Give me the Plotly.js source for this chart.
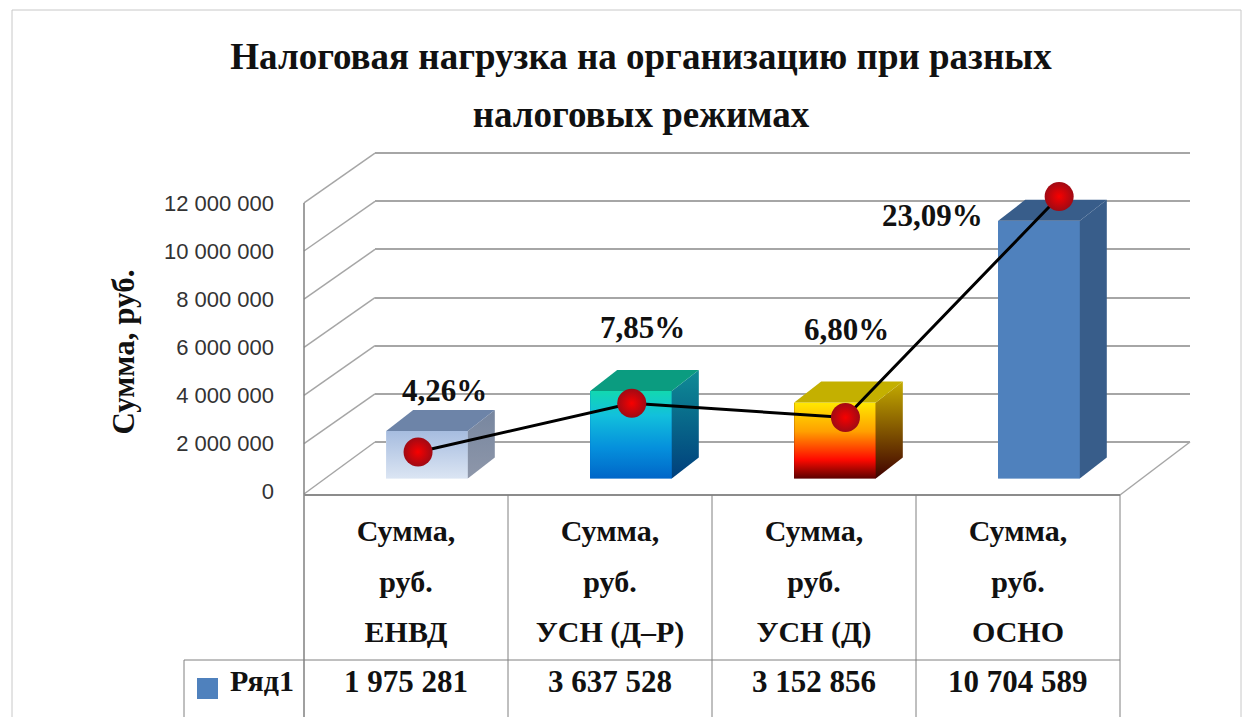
<!DOCTYPE html>
<html>
<head>
<meta charset="utf-8">
<script src="https://cdn.plot.ly/plotly-3.0.1.min.js"></script>
<style>html,body{margin:0;padding:0;background:#fff;overflow:hidden}#chart{width:1256px;height:717px}</style>
</head>
<body>
<div id="chart"></div>
<script>
const chartTitleLines = ["Налоговая нагрузка на организацию при разных", "налоговых режимах"];
const yAxisTitle = "Сумма, руб.";
const seriesName = "Ряд1";
const regimes = ["ЕНВД", "УСН (Д–Р)", "УСН (Д)", "ОСНО"];
const amounts = [1975281, 3637528, 3152856, 10704589];
const shares = [4.26, 7.85, 6.80, 23.09];
const shareLabels = ["4,26%", "7,85%", "6,80%", "23,09%"];
const shareLabelShift = [[26, -61], [11, -76], [1, -88], [-127, 19]];
const yTicks = [0, 2000000, 4000000, 6000000, 8000000, 10000000, 12000000];
const yTickText = ["0", "2 000 000", "4 000 000", "6 000 000", "8 000 000", "10 000 000", "12 000 000"];
const amountText = ["1 975 281", "3 637 528", "3 152 856", "10 704 589"];

const W = 1256, H = 717;
const SERIF = '"Liberation Serif","Times New Roman",serif';
const xd = (a, b) => [a / W, b / W];
const yd = (top, bottom) => [1 - bottom / H, 1 - top / H];
const idx = regimes.map((_, i) => i);

// geometry of the chart's pseudo-3D planes (pixels)
const PX_PER_UNIT = 24.07 / 1e6;
const barW = 0.4, depthX = 27 / 204, depthY = 21 / PX_PER_UNIT;

const faces = [
  {front: [[0, "#dbe5f3"], [1, "#a6bcdf"]], side: [[0, "#8e97aa"], [1, "#77869f"]], top: "#6d84a8"},
  {front: [[0, "#0066c8"], [0.35, "#0590dc"], [0.72, "#12c0dc"], [0.93, "#12d2bc"], [1, "#12d8b0"]], side: [[0, "#003f7c"], [1, "#0f8c96"]], top: "#0b9c80"},
  {front: [[0, "#5c0000"], [0.25, "#ff0a00"], [0.62, "#ffa000"], [1, "#ffe800"]], side: [[0, "#3f0000"], [1, "#c4ac00"]], top: "#c4b000"},
  {front: [[0, "#4f81bd"], [1, "#4f81bd"]], side: [[0, "#385d8a"], [1, "#385d8a"]], top: "#385d8a"}
];

const traces = [];
// back wall helper (keeps the grid subplot alive)
traces.push({type: "scatter", mode: "none", x: [0], y: [0], xaxis: "x", yaxis: "y", showlegend: false, hoverinfo: "skip"});
// main bars
traces.push({
  type: "bar", x: idx, y: amounts, width: barW, xaxis: "x2", yaxis: "y2",
  marker: {color: faces.map(f => f.front[0][1]), line: {width: 0}},
  name: seriesName, showlegend: false, hoverinfo: "skip"
});
amounts.forEach((v, i) => {
  const l = i - barW / 2, r = i + barW / 2;
  const base = {type: "scatter", mode: "lines", line: {width: 0}, fill: "toself", xaxis: "x2", yaxis: "y2", showlegend: false, hoverinfo: "skip"};
  traces.push(Object.assign({}, base, {
    x: [l, r, r, l, l], y: [0, 0, v, v, 0],
    fillgradient: {type: "vertical", colorscale: faces[i].front}
  }));
  traces.push(Object.assign({}, base, {
    x: [r, r + depthX, r + depthX, r, r], y: [0, depthY, v + depthY, v, 0],
    fillgradient: {type: "vertical", colorscale: faces[i].side}
  }));
  traces.push(Object.assign({}, base, {
    x: [l, r, r + depthX, l + depthX, l], y: [v, v, v + depthY, v + depthY, v],
    fillcolor: faces[i].top
  }));
});
// front-plane axis owner + legend entry
traces.push({
  type: "scatter", mode: "markers", x: [null], y: [null], xaxis: "x3", yaxis: "y3",
  name: seriesName, marker: {symbol: "square", size: 1, color: "#4f81bd"}, showlegend: true, hoverinfo: "skip"
});
// share line
traces.push({
  type: "scatter", mode: "lines+markers", x: idx, y: shares, xaxis: "x4", yaxis: "y4",
  line: {color: "#000000", width: 3},
  marker: {size: 29, color: "#a00a14", gradient: {type: "radial", color: "#f80000"}, line: {width: 0}},
  showlegend: false, hoverinfo: "skip", cliponaxis: false
});

// helpers for the wall diagonals
const frontPx = v => 491.7 - v * PX_PER_UNIT;
const backPx = v => 442 - v * PX_PER_UNIT;
const shapes = [];
const ln = (x0, y0, x1, y1, color, width) => shapes.push({type: "line", xref: "paper", yref: "paper",
  x0: x0 / W, x1: x1 / W, y0: 1 - y0 / H, y1: 1 - y1 / H, line: {color, width}, layer: "below"});
yTicks.forEach(v => ln(304, v === 0 ? 494 : frontPx(v), 375, backPx(v), "#a6a6a6", 1.5));
ln(1120, 495, 1190, 442, "#a6a6a6", 1.5);
// value axis / table rules
ln(304, 203, 304, 717, "#808080", 1.5);
ln(304, 495, 1120, 495, "#8c8c8c", 2);
[508, 712, 916, 1120].forEach(x => ln(x, 495, x, 717, "#808080", 1));
ln(184, 660, 1120, 660, "#808080", 1);
ln(184, 660, 184, 717, "#808080", 1);
// outer frame
ln(12, 10, 1241, 10, "#c8c8c8", 1);
ln(12, 10, 12, 717, "#c8c8c8", 1);
ln(1241, 10, 1241, 717, "#c8c8c8", 1);
// legend key
shapes.push({type: "rect", xref: "paper", yref: "paper", x0: 197 / W, x1: 218 / W, y0: 1 - 699 / H, y1: 1 - 678 / H,
  fillcolor: "#4f81bd", line: {width: 0}, layer: "above"});

const annotations = shareLabels.map((t, i) => ({
  xref: "x4", yref: "y4", x: i, y: shares[i], text: t, showarrow: false,
  xshift: shareLabelShift[i][0], yshift: -shareLabelShift[i][1],
  font: {family: SERIF, size: 31, color: "#111111", weight: "bold"}
}));
amountText.forEach((t, i) => annotations.push({
  xref: "x3", yref: "paper", x: i, y: 1 - 681 / H, yanchor: "middle", text: t, showarrow: false,
  font: {family: SERIF, size: 31, color: "#111111", weight: "bold"}
}));

const catSpan = s => '<span style="font-size:30px">' + s + "</span>";
const tickLabels = regimes.map(r => ["Сумма,", "руб.", r].map(catSpan).join("<br>"));

const hiddenAxis = {showgrid: false, zeroline: false, showline: false, showticklabels: false, ticks: "", fixedrange: true};

const layout = {
  width: W, height: H, autosize: false,
  margin: {l: 0, r: 0, t: 0, b: 0, pad: 0},
  paper_bgcolor: "#ffffff", plot_bgcolor: "rgba(0,0,0,0)",
  title: {
    text: chartTitleLines.map(s => '<span style="font-size:37px">' + s + "</span>").join("<br>"),
    font: {family: SERIF, size: 44.6, color: "#111111", weight: "bold"},
    x: 641 / W, xanchor: "center", y: 1 - 69 / H, yanchor: "top"
  },
  font: {family: SERIF},
  bargap: 0,
  showlegend: true,
  legend: {
    x: 190 / W, y: 1 - 679 / H, xanchor: "left", yanchor: "middle",
    bgcolor: "rgba(0,0,0,0)", borderwidth: 0, itemsizing: "trace",
    font: {family: SERIF, size: 30, color: "#111111", weight: "bold"}
  },
  // back wall
  xaxis: Object.assign({}, hiddenAxis, {domain: xd(375, 1190), range: [0, 1], anchor: "y"}),
  yaxis: Object.assign({}, hiddenAxis, {
    domain: yd(backPx(13000000), backPx(0)), range: [0, 13000000], anchor: "x",
    showgrid: true, gridcolor: "#a6a6a6", gridwidth: 2, tickmode: "array", tickvals: yTicks, zeroline: true, zerolinecolor: "#a6a6a6", zerolinewidth: 2
  }),
  // bars plane: category centre 0 at 427px, spacing 204px, baseline 478.5px
  xaxis2: Object.assign({}, hiddenAxis, {domain: xd(325, 1141), range: [-0.5, 3.5], anchor: "y2"}),
  yaxis2: Object.assign({}, hiddenAxis, {domain: yd(100, 478.5), range: [0, 378.5 / PX_PER_UNIT], anchor: "x2"}),
  // front plane: value-axis labels and table header
  xaxis3: Object.assign({}, hiddenAxis, {
    domain: xd(304, 1120), range: [-0.5, 3.5], anchor: "y3",
    showticklabels: true, tickmode: "array", tickvals: idx, ticktext: tickLabels,
    tickfont: {family: SERIF, size: 39, color: "#111111", weight: "bold"},
    tickangle: 0
  }),
  yaxis3: Object.assign({}, hiddenAxis, {
    domain: yd(203, 501), range: [-(501 - 491.7) / PX_PER_UNIT, 12000000], anchor: "x3",
    showticklabels: true, tickmode: "array", tickvals: yTicks, ticktext: yTickText, ticklabelstandoff: 29,
    tickfont: {family: '"Liberation Sans",Arial,sans-serif', size: 22, color: "#333333"},
    title: {text: yAxisTitle, font: {family: SERIF, size: 31, color: "#111111", weight: "bold"}, standoff: 20}
  }),
  // share line plane
  xaxis4: Object.assign({}, hiddenAxis, {domain: xd(311.2, 1166), range: [-0.5, 3.5], anchor: "y4"}),
  yaxis4: Object.assign({}, hiddenAxis, {domain: yd(150, 509.8), range: [0, 359.8 / 13.57], anchor: "x4"}),
  shapes, annotations
};

Plotly.newPlot("chart", traces, layout, {staticPlot: true, displayModeBar: false});
</script>
</body>
</html>
